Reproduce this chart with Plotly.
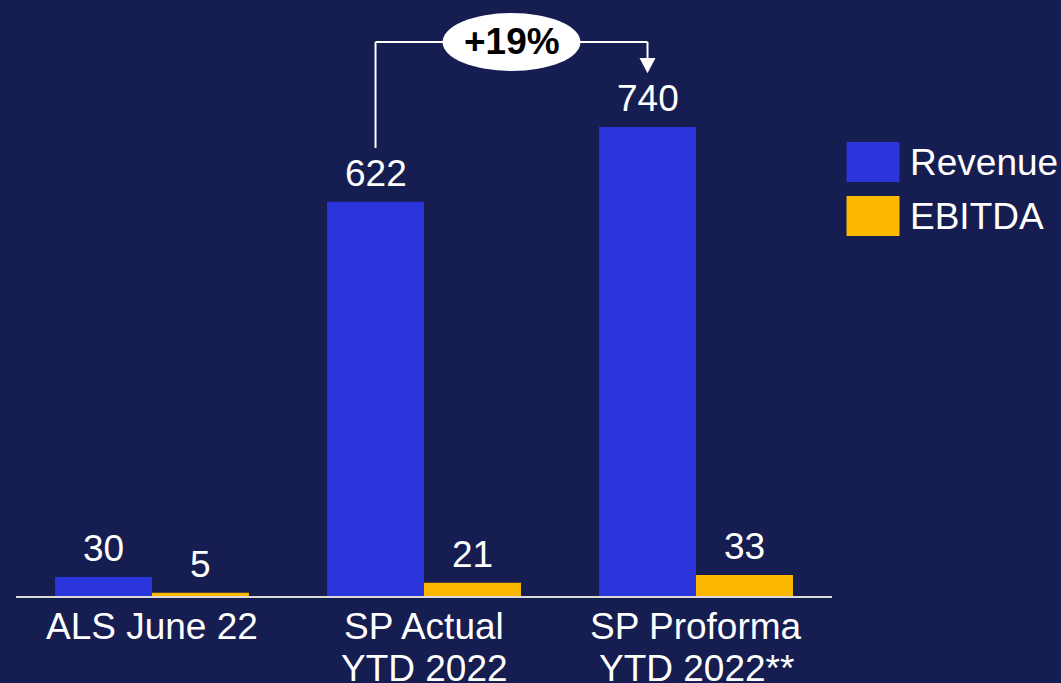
import plotly.graph_objects as go

# Data
categories = ["ALS June 22", "SP Actual<br>YTD 2022", "SP Proforma<br>YTD 2022**"]
revenue = [30, 622, 740]
ebitda = [5, 21, 33]
series_names = ["Revenue", "EBITDA"]

BG = "#161D50"
BLUE = "#2B35DC"
GOLD = "#FFB800"
WHITE = "#FFFFFF"
FONT = "Liberation Sans, Arial, sans-serif"
FS = 37

x_pos = list(range(len(categories)))
BARGAP = 0.287
half_bar = (1 - BARGAP) / 4  # offset of each bar centre from its category centre

fig = go.Figure()
series = [(series_names[0], revenue, BLUE, -half_bar), (series_names[1], ebitda, GOLD, half_bar)]
for name, vals, color, off in series:
    fig.add_trace(go.Bar(
        x=x_pos, y=vals, name=name,
        marker=dict(color=color, line=dict(width=0)),
        showlegend=False,
    ))
    # value labels above each bar
    for xi, v in zip(x_pos, vals):
        fig.add_annotation(x=xi + off, y=v, text=str(v), showarrow=False,
                           xanchor="center", yanchor="bottom", yshift=6,
                           font=dict(color=WHITE, size=FS, family=FONT))

# Category labels, one annotation per text line
for xi, label in zip(x_pos, categories):
    for li, line in enumerate(label.split("<br>")):
        fig.add_annotation(x=xi, xref="x", yref="paper", y=0, text=line, showarrow=False,
                           xanchor="center", yanchor="top", yshift=-8 - 42 * li,
                           font=dict(color=WHITE, size=FS, family=FONT))

# Growth bracket between the two SP revenue bars
growth = revenue[2] / revenue[1] - 1
x_left = 1 - half_bar
x_right = 2 - half_bar
x_mid = (x_left + x_right) / 2
y_top = 874
y_left_end = 707
y_arrow_tip = 825
y_arrow_base = 849

line_style = dict(color=WHITE, width=2)
fig.add_shape(type="line", x0=x_left, x1=x_left, y0=y_left_end, y1=y_top, line=line_style)
fig.add_shape(type="line", x0=x_left, x1=x_right, y0=y_top, y1=y_top, line=line_style)
fig.add_shape(type="line", x0=x_right, x1=x_right, y0=y_top, y1=y_arrow_base, line=line_style)
fig.add_shape(type="path", xsizemode="pixel", xanchor=x_right,
              path=f"M-8,{y_arrow_base} L8,{y_arrow_base} L0,{y_arrow_tip} Z",
              fillcolor=WHITE, line=dict(width=0))
fig.add_shape(type="circle", xsizemode="pixel", ysizemode="pixel",
              xanchor=x_mid, yanchor=y_top, x0=-69, x1=69, y0=-29, y1=29,
              fillcolor=WHITE, line=dict(width=0), layer="above")
fig.add_annotation(x=x_mid, y=y_top, text=f"<b>+{growth*100:.0f}%</b>", showarrow=False,
                   font=dict(color="#000000", size=FS, family=FONT), yshift=1)

# Legend drawn as swatches with labels
legend_items = [(series_names[0], BLUE, 0.7617, 0.6946), (series_names[1], GOLD, 0.6711, 0.6040)]
for name, color, y1, y0 in legend_items:
    fig.add_shape(type="rect", xref="paper", yref="paper", x0=1.0178, x1=1.0827, y0=y0, y1=y1,
                  fillcolor=color, line=dict(width=0))
    fig.add_annotation(xref="paper", yref="paper", x=1.0935, y=(y0 + y1) / 2, text=name,
                       showarrow=False, xanchor="left", yanchor="middle",
                       font=dict(color=WHITE, size=FS, family=FONT))

fig.update_layout(
    width=1061, height=683,
    margin=dict(l=16, r=229, t=0, b=87, autoexpand=False),
    paper_bgcolor=BG, plot_bgcolor=BG,
    barmode="group", bargap=BARGAP, bargroupgap=0,
    font=dict(family=FONT, color=WHITE, size=FS),
    xaxis=dict(tickvals=x_pos, showticklabels=False, range=[-0.5, 2.5], automargin=False,
               showline=True, linecolor="#D9D9D9", linewidth=2, showgrid=False,
               zeroline=False, ticks=""),
    yaxis=dict(range=[0, 940.4], visible=False, showgrid=False, zeroline=False, automargin=False),
)

fig.write_html("out.html")
